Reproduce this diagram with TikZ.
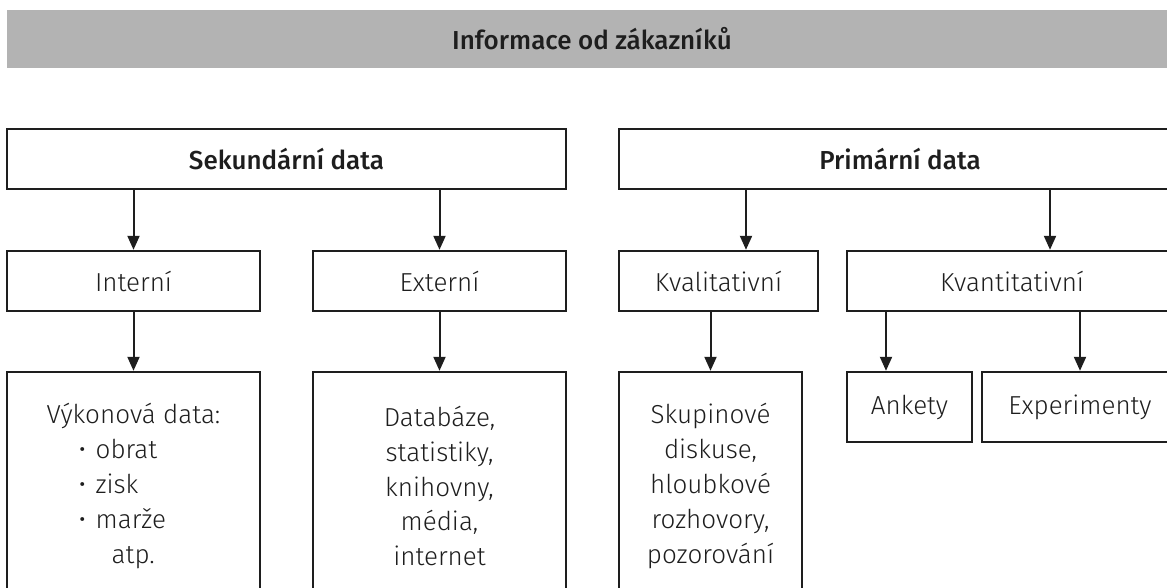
\documentclass[tikz,border=0pt]{standalone}
\usepackage{fontspec}
\setmainfont{Fira Sans Light}[BoldFont={Fira Sans Medium}]
\usepackage{xcolor}
\usepackage{tikz}
\usetikzlibrary{arrows.meta,positioning,calc}
\definecolor{bandgray}{HTML}{B3B3B3}
\definecolor{inkdark}{HTML}{1E1E1E}
\tikzset{
  box/.style={draw=inkdark,line width=1.2pt,inner sep=0pt,text=inkdark,align=center,font=\fontsize{13}{17.4}\selectfont},
  headbox/.style={box,font=\fontsize{13}{17.4}\selectfont\bfseries},
  arr/.style={draw=inkdark,line width=1pt,-{Triangle[length=7pt,width=6pt]}}
}

\begin{document}
\begin{tikzpicture}[x=0.5pt,y=-0.5pt]
\useasboundingbox (0,0) rectangle (1167,588);
\clip (0,0) rectangle (1167,588);
% top band
\node[fill=bandgray,minimum width=585pt,minimum height=29pt,inner sep=0pt,text=inkdark,font=\fontsize{13}{17.4}\selectfont\bfseries] (info) at (592,39) {Informace od zákazníků};
% first level
\node[headbox,minimum width=279.5pt,minimum height=30pt] (sek) at (286.5,159) {Sekundární data};
\node[headbox,minimum width=281pt,minimum height=30pt] (prim) at (900,159) {Primární data};
% second level
\node[box,minimum width=126.5pt,minimum height=30pt] (int) at (133.5,281) {Interní};
\node[box,minimum width=126.5pt,minimum height=30pt] (ext) at (439.5,281) {Externí};
\node[box,minimum width=99.5pt,minimum height=30pt] (kval) at (718.5,281) {Kvalitativní};
\node[box,minimum width=165pt,minimum height=30pt] (kvan) at (1012,281) {Kvantitativní};
% third level
\node[box,align=left,minimum width=126.5pt,minimum height=114pt] (vyk) at (133.5,486) {Výkonová data:\\
  \hspace*{16pt}\makebox[8.5pt][l]{\textbullet}obrat\\
  \hspace*{16pt}\makebox[8.5pt][l]{\textbullet}zisk\\
  \hspace*{16pt}\makebox[8.5pt][l]{\textbullet}marže\\
  \hspace*{32.5pt}atp.};
\node[box,minimum width=126.5pt,minimum height=114pt] (db) at (439.5,486) {Databáze,\\statistiky,\\knihovny,\\média,\\internet};
\node[box,minimum width=91.5pt,minimum height=114pt] (skup) at (710.5,486) {Skupinové\\diskuse,\\hloubkové\\rozhovory,\\pozorování};
\node[box,minimum width=62.5pt,minimum height=35pt] (ank) at (909.5,407) {Ankety};
\node[box,minimum width=98pt,minimum height=35pt] (exper) at (1080,407) {Experimenty};
% arrows
\draw[arr] (int.north |- sek.south) -- (int.north);
\draw[arr] (ext.north |- sek.south) -- (ext.north);
\draw[arr] ($(kval.north |- prim.south)+(27.5,0)$) -- ($(kval.north)+(27.5,0)$);
\draw[arr] ($(kvan.north |- prim.south)+(38,0)$) -- ($(kvan.north)+(38,0)$);
\draw[arr] (vyk.north |- int.south) -- (vyk.north);
\draw[arr] (db.north |- ext.south) -- (db.north);
\draw[arr] (skup.north |- kval.south) -- (skup.north);
\draw[arr] ($(ank.north |- kvan.south)+(-23.5,0)$) -- ($(ank.north)+(-23.5,0)$);
\draw[arr] (exper.north |- kvan.south) -- (exper.north);
\end{tikzpicture}
\end{document}
